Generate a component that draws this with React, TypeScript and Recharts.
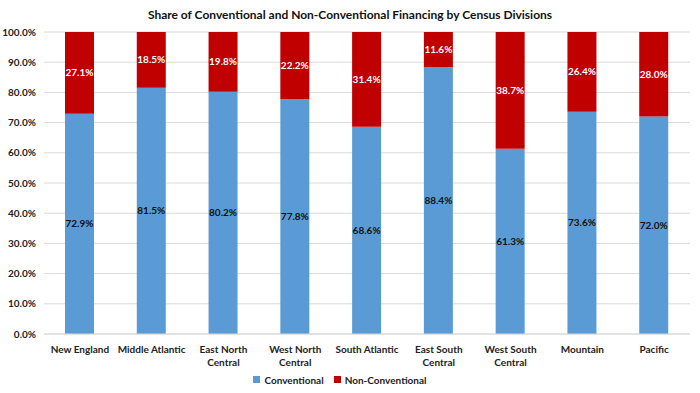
import { Bar, BarChart, CartesianGrid, LabelList, Legend, XAxis, YAxis } from "recharts";

const divisions = [
  "New England",
  "Middle Atlantic",
  "East North Central",
  "West North Central",
  "South Atlantic",
  "East South Central",
  "West South Central",
  "Mountain",
  "Pacific",
];
const conventional = [72.9, 81.5, 80.2, 77.8, 68.6, 88.4, 61.3, 73.6, 72.0];
const nonConventional = [27.1, 18.5, 19.8, 22.2, 31.4, 11.6, 38.7, 26.4, 28.0];
const yTicks = [0, 10, 20, 30, 40, 50, 60, 70, 80, 90, 100];

const data = divisions.map((name, i) => ({
  name,
  conventional: conventional[i],
  nonConventional: nonConventional[i],
}));

const font = "Lato, 'Open Sans', sans-serif";
const pct = (v: any) => `${Number(v).toFixed(1)}%`;

function CategoryTick({ x, y, payload }: any) {
  const text: string = payload.value;
  let lines = [text];
  if (text.length > 15) {
    const cut = text.lastIndexOf(" ");
    lines = [text.slice(0, cut), text.slice(cut + 1)];
  }
  return (
    <text x={x} y={y + 11} textAnchor="middle" fontSize={10} fontWeight="bold" fill="#222" fontFamily={font}>
      {lines.map((l, i) => (
        <tspan key={i} x={x} dy={i === 0 ? 0 : 13}>
          {l}
        </tspan>
      ))}
    </text>
  );
}

export default function App() {
  return (
    <div style={{ position: "absolute", left: 0, top: 0, width: 700, height: 393, background: "#fff", fontFamily: font }}>
      <div style={{ position: "absolute", top: 7, width: 700, textAlign: "center", fontSize: 12, fontWeight: "bold", color: "#111" }}>
        Share of Conventional and Non-Conventional Financing by Census Divisions
      </div>
      <BarChart width={700} height={393} data={data} margin={{ top: 32, right: 10, left: 0, bottom: 0 }} barSize={29}>
        <CartesianGrid vertical={false} stroke="#d9d9d9" />
        <XAxis
          dataKey="name"
          tick={<CategoryTick />}
          tickLine={false}
          axisLine={{ stroke: "#d9d9d9" }}
          height={34}
          interval={0}
        />
        <YAxis
          domain={[0, 100]}
          ticks={yTicks}
          tickFormatter={pct}
          tick={{ fontSize: 10, fontWeight: "bold", fill: "#222", fontFamily: font }}
          tickLine={false}
          axisLine={false}
          width={44}
        />
        <Legend
          verticalAlign="bottom"
          height={25}
          iconType="square"
          iconSize={7}
          formatter={(v: string) => (
            <span style={{ color: "#222", fontSize: 10, fontWeight: "bold", fontFamily: font }}>{v}</span>
          )}
        />
        <Bar dataKey="conventional" name="Conventional" stackId="a" fill="#5B9BD5" isAnimationActive={false}>
          <LabelList dataKey="conventional" position="center" formatter={pct} fontSize={10} fontWeight="bold" fill="#111" fontFamily={font} />
        </Bar>
        <Bar dataKey="nonConventional" name="Non-Conventional" stackId="a" fill="#C00000" isAnimationActive={false}>
          <LabelList dataKey="nonConventional" position="center" formatter={pct} fontSize={10} fontWeight="bold" fill="#fff" fontFamily={font} />
        </Bar>
      </BarChart>
    </div>
  );
}
